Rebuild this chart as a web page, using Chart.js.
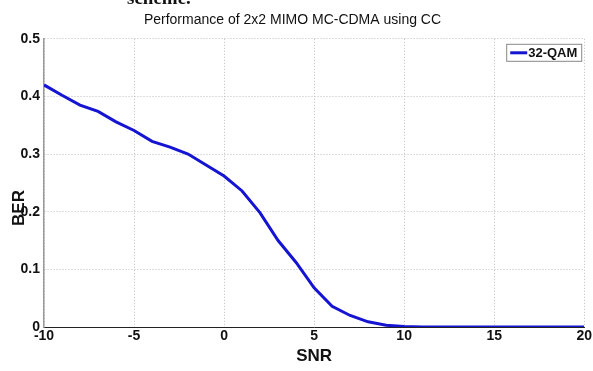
<!DOCTYPE html>
<html>
<head>
<meta charset="utf-8">
<script src="https://cdn.jsdelivr.net/npm/chart.js@4"></script>
<style>
  html, body { margin: 0; padding: 0; background: #fff; overflow: hidden; }
  #wrap { position: relative; width: 593px; height: 371px; }
  #caption {
    position: absolute; left: 127px; top: -13px;
    font: bold 19px "Liberation Serif", "Times New Roman", serif; color: #111;
  }
  canvas { position: absolute; left: 0; top: 0; }
</style>
</head>
<body>
<div id="wrap">
  <canvas id="berChart" width="593" height="371"></canvas>
  <div id="caption">scheme.</div>
</div>
<script>
// SNR (dB) against bit error rate
const snr = [-10, -9, -8, -7, -6, -5, -4, -3, -2, -1, 0, 1, 2, 3, 4, 5, 6, 7, 8, 9, 10,
             11, 12, 13, 14, 15, 16, 17, 18, 19, 20];
const ber = [0.420, 0.402, 0.385, 0.374, 0.356, 0.341, 0.322, 0.312, 0.300, 0.281, 0.262,
             0.236, 0.198, 0.150, 0.112, 0.068, 0.036, 0.020, 0.009, 0.003, 0.001,
             0, 0, 0, 0, 0, 0, 0, 0, 0, 0];
const seriesLabel = '32-QAM';
const xTicks = [-10, -5, 0, 5, 10, 15, 20];
const yTicks = [0, 0.1, 0.2, 0.3, 0.4, 0.5];

const sans = '"Liberation Sans Narrow", "Arial Narrow", "Liberation Sans", Arial, sans-serif';

// legend box in the upper right corner + rotated BER label
const overlay = {
  id: 'overlay',
  afterDraw(chart) {
    const ctx = chart.ctx;
    const area = chart.chartArea;
    const ds = chart.data.datasets[0];
    ctx.save();
    const bx = area.right - 78, by = area.top + 5, bw = 75, bh = 17;
    ctx.fillStyle = '#fff';
    ctx.fillRect(bx, by, bw, bh);
    ctx.strokeStyle = '#888';
    ctx.lineWidth = 1;
    ctx.strokeRect(bx + 0.5, by + 0.5, bw, bh);
    ctx.strokeStyle = ds.borderColor;
    ctx.lineWidth = 3;
    ctx.beginPath();
    ctx.moveTo(bx + 4, by + 9);
    ctx.lineTo(bx + 21, by + 9);
    ctx.stroke();
    ctx.fillStyle = '#111';
    ctx.font = 'bold 13px ' + sans;
    ctx.textBaseline = 'middle';
    ctx.fillText(ds.label, bx + 22, by + 9.5);

    ctx.translate(19, 208);
    ctx.rotate(-Math.PI / 2);
    ctx.textAlign = 'center';
    ctx.font = 'bold 17px ' + sans;
    ctx.fillText('BER', 0, 0);
    ctx.restore();
  }
};

new Chart(document.getElementById('berChart').getContext('2d'), {
  type: 'line',
  data: {
    datasets: [{
      label: seriesLabel,
      data: snr.map((s, i) => ({ x: s, y: ber[i] })),
      borderColor: '#1414d2',
      borderWidth: 3,
      pointRadius: 0,
      tension: 0,
      fill: false
    }]
  },
  options: {
    responsive: false,
    animation: false,
    layout: { padding: { left: 0, right: 8, top: 0, bottom: 0 } },
    plugins: {
      legend: { display: false },
      tooltip: { enabled: false },
      title: {
        display: true,
        text: 'Performance of 2x2 MIMO MC-CDMA using CC',
        color: '#111',
        font: { family: sans, size: 14, weight: 'normal' },
        padding: { top: 12, bottom: 10 }
      }
    },
    scales: {
      x: {
        type: 'linear',
        min: -10, max: 20,
        afterBuildTicks(scale) { scale.ticks = xTicks.map(v => ({ value: v })); },
        afterFit(scale) { scale.height = 44; },
        ticks: {
          color: '#111', padding: 1, maxRotation: 0,
          font: { family: sans, size: 14, weight: 'bold' }
        },
        grid: { color: '#bdbdbd', drawTicks: false },
        border: { color: '#222', width: 1, dash: [1, 2] },
        title: {
          display: true, text: 'SNR', color: '#111',
          font: { family: sans, size: 17, weight: 'bold' },
          padding: { top: 2 }
        }
      },
      y: {
        min: 0, max: 0.5,
        afterBuildTicks(scale) { scale.ticks = yTicks.map(v => ({ value: v })); },
        afterFit(scale) { scale.width = 44; },
        ticks: {
          color: '#111', padding: 4,
          font: { family: sans, size: 14, weight: 'bold' }
        },
        grid: { color: '#bdbdbd', drawTicks: false },
        border: { color: '#999', width: 1.5, dash: [1, 2] }
      }
    }
  },
  plugins: [overlay]
});
</script>
</body>
</html>
